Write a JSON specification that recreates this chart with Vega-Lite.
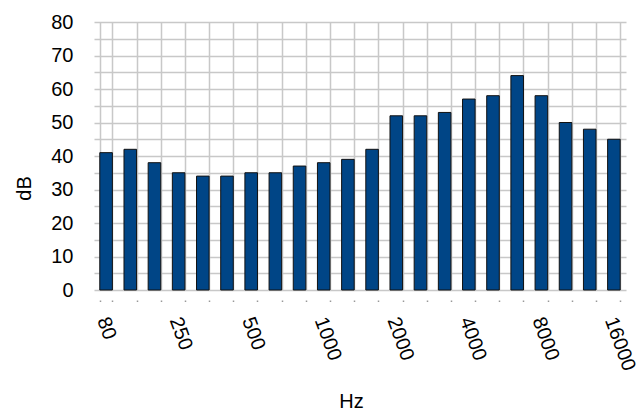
{
  "$schema": "https://vega.github.io/schema/vega-lite/v6.json",
  "autosize": "none",
  "width": 532,
  "height": 268,
  "padding": {"left": 94, "top": 22, "right": 14, "bottom": 120},
  "background": "white",
  "data": {
    "values": [
      {"hz": "80", "db": 41},
      {"hz": "125", "db": 42},
      {"hz": "160", "db": 38},
      {"hz": "250", "db": 35},
      {"hz": "315", "db": 34},
      {"hz": "400", "db": 34},
      {"hz": "500", "db": 35},
      {"hz": "630", "db": 35},
      {"hz": "800", "db": 37},
      {"hz": "1000", "db": 38},
      {"hz": "1250", "db": 39},
      {"hz": "1600", "db": 42},
      {"hz": "2000", "db": 52},
      {"hz": "2500", "db": 52},
      {"hz": "3150", "db": 53},
      {"hz": "4000", "db": 57},
      {"hz": "5000", "db": 58},
      {"hz": "6300", "db": 64},
      {"hz": "8000", "db": 58},
      {"hz": "10000", "db": 50},
      {"hz": "12500", "db": 48},
      {"hz": "16000", "db": 45}
    ]
  },
  "config": {
    "view": {"stroke": null},
    "font": "Liberation Sans",
    "axis": {
      "labelFont": "Liberation Sans",
      "titleFont": "Liberation Sans",
      "labelFontSize": 20,
      "titleFontSize": 20,
      "labelColor": "#000000",
      "titleColor": "#000000",
      "titleFontWeight": "normal",
      "gridColor": "#c8c8c8",
      "gridWidth": 1.5,
      "gridOpacity": 1
    }
  },
  "mark": {"type": "bar", "color": "#004586", "stroke": "#111111", "strokeWidth": 1},
  "encoding": {
    "x": {
      "field": "hz",
      "type": "nominal",
      "sort": null,
      "scale": {"paddingInner": 0.48, "paddingOuter": 0.24},
      "axis": {
        "title": "Hz",
        "titleX": 257,
        "titleY": 107,
        "titleAlign": "center",
        "titleBaseline": "alphabetic",
        "labelAngle": 70,
        "labelExpr": "indexof(['80','250','500','1000','2000','4000','8000','16000'], datum.value) >= 0 ? datum.value : ''",
        "labelPadding": 16,
        "labelOffset": -4,
        "offset": 10,
        "tickBand": "extent",
        "tickSize": 1.5,
        "tickColor": "#999999",
        "tickWidth": 1.5,
        "domain": false,
        "grid": true
      }
    },
    "y": {
      "field": "db",
      "type": "quantitative",
      "scale": {"domain": [0, 80], "nice": false},
      "axis": {
        "title": "dB",
        "values": [0, 5, 10, 15, 20, 25, 30, 35, 40, 45, 50, 55, 60, 65, 70, 75, 80],
        "labelExpr": "datum.value % 10 == 0 ? datum.label : ''",
        "ticks": false,
        "tickSize": 0,
        "labelPadding": 21,
        "domain": false,
        "grid": true,
        "titleX": -70,
        "titleY": 166,
        "titleAlign": "center",
        "titleBaseline": "middle",
        "titleAngle": -90
      }
    }
  }
}
